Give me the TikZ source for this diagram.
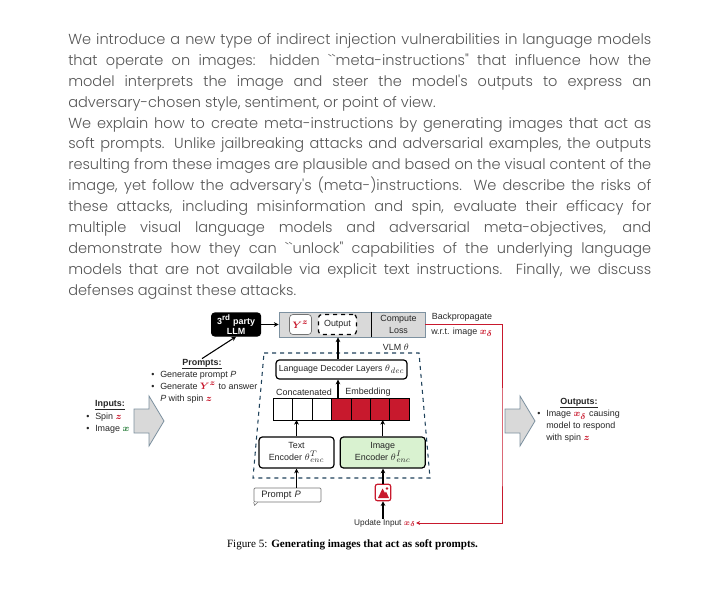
\documentclass[tikz,border=0pt]{standalone}
\usepackage{amsmath}
\usepackage{fontspec}
\setsansfont{Liberation Sans}
\newfontfamily\bodyfont{Poppins}[UprightFont=* Light]
\newfontfamily\capfont{Liberation Serif}
\usetikzlibrary{arrows.meta, positioning}
\DeclareMathSizes{6.7}{7}{6}{5}
\DeclareMathSizes{6.6}{7}{6}{5}
\definecolor{bodygray}{RGB}{85,85,85}
\definecolor{boxgray}{RGB}{217,217,217}
\definecolor{edgeblue}{RGB}{125,145,160}
\definecolor{dashblue}{RGB}{30,65,90}
\definecolor{cellred}{RGB}{200,25,45}
\definecolor{encgreen}{RGB}{217,242,208}
\definecolor{spingreen}{RGB}{30,120,50}
\newcommand{\red}[1]{\textcolor{cellred}{\boldmath #1}}
\newcommand{\bul}{\makebox[6.75pt][l]{\textbullet}}

\begin{document}
\begin{tikzpicture}[
  x=0.75pt, y=-0.75pt,
  txt/.style={font=\sffamily\fontsize{6.7}{9}\selectfont, inner sep=0pt, text=black!85, align=center},
  lst/.style={txt, align=left},
  block/.style={rectangle, rounded corners=2.5pt, draw=black, line width=0.9pt, inner sep=0pt,
    minimum height=23.25pt, txt},
  cellbox/.style={rectangle, draw=black, line width=0.7pt, inner sep=0pt, outer sep=0pt,
    minimum width=14.57pt, minimum height=16.5pt},
  arrow/.style={-{Stealth[length=3.5pt,width=3.5pt]}, line width=0.8pt, black}
]
\useasboundingbox (0,0) rectangle (720,592);

% Abstract text
\node[anchor=north west, inner sep=0pt, text width=437.25pt, align=justify, text=bodygray,
  font=\bodyfont\fontsize{10.9}{15.7}\selectfont] (abstract) at (68,33) {%
We introduce a new type of indirect injection vulnerabilities in language models\linebreak
that operate on images: hidden ``meta-instructions" that influence how the\linebreak
model interprets the image and steer the model's outputs to express an\linebreak
adversary-chosen style, sentiment, or point of view.\par
We explain how to create meta-instructions by generating images that act as\linebreak
soft prompts. Unlike jailbreaking attacks and adversarial examples, the outputs\linebreak
resulting from these images are plausible and based on the visual content of the\linebreak
image, yet follow the adversary's (meta-)instructions. We describe the risks of\linebreak
these attacks, including misinformation and spin, evaluate their efficacy for\linebreak
multiple visual language models and adversarial meta-objectives, and\linebreak
demonstrate how they can ``unlock" capabilities of the underlying language\linebreak
models that are not available via explicit text instructions. Finally, we discuss\linebreak
defenses against these attacks.};

% Top row
\node[rectangle, draw=edgeblue, fill=boxgray, line width=0.7pt, minimum width=109.5pt,
  minimum height=18.75pt, inner sep=0pt] (topbox) at (352,324.5) {};
\node[block, draw=black!55, line width=0.5pt, fill=white, minimum width=16.5pt, minimum height=15pt,
  right=8pt of topbox.west] (yz) {\red{$Y^z$}};
\node[block, dashed, fill=white, minimum width=28.5pt, minimum height=15pt,
  right=4.5pt of yz] (output) {Output};
\node[txt, minimum width=39.75pt, minimum height=18.75pt] (loss) at (398.5,324.5) {Compute\\Loss};
\draw[line width=0.9pt] (loss.north west) -- (loss.south west);
\node[block, fill=black, text=white, minimum width=36.75pt, minimum height=17.25pt,
  font=\sffamily\bfseries\fontsize{6.7}{8}\selectfont, left=13pt of topbox] (llm) {3\textsuperscript{rd} party\\LLM};
\node[txt] (backprop) at (462,317) {Backpropagate};
\node[txt] (wrt) at (462,332) {w.r.t. image \red{$x_\delta$}};

% VLM region
\draw[dashblue, dashed, line width=0.8pt] (264,353) -- (419,353) -- (430,478) -- (253,478) -- cycle;
\node[txt] (vlm) at (396,347) {VLM $\theta$};
\node[block, minimum width=98.25pt, minimum height=14.25pt, font=\sffamily\fontsize{6.6}{8}\selectfont]
  (decoder) at (341.5,369.5) {Language Decoder Layers $\theta_{\mathit{dec}}$};
\foreach \i/\col in {1/white,2/white,3/white,4/cellred,5/cellred,6/cellred,7/cellred}
  \node[cellbox, fill=\col] (cell\i) at ({263.6+19.43*\i},409) {};
\node[txt] (concat) at (304,392) {Concatenated};
\node[txt] (embed) at (368,392) {Embedding};
\node[block] at (296.5,452.5) [minimum width=56.25pt] (textenc) {Text\\Encoder $\theta^{T}_{\mathit{enc}}$};
\node[block, fill=encgreen, minimum width=63.75pt, right=3.75pt of textenc] (imgenc) {Image\\Encoder $\theta^{I}_{\mathit{enc}}$};

% Inputs to the encoders
\node[txt, draw=black!55, line width=0.5pt, rounded corners=0.8pt, text width=44.25pt, align=left,
  inner xsep=3pt, minimum height=10.5pt, font=\sffamily\fontsize{7}{9}\selectfont]
  (prompt) at (287.5,495) {\hspace*{2.5pt}Prompt \textit{P}};
\draw[black!55, line width=0.5pt, fill=white] (prompt.south west) -- ++(1,3) -- ++(3,-3);
\node[rectangle, draw=cellred, fill=white, rounded corners=1.5pt, line width=0.9pt, inner sep=0pt,
  minimum width=11.5pt, minimum height=12.25pt] (icon) at (383,492.5) {};
\fill[cellred] (378,498) -- (382.5,488.5) -- (385,493) -- (386,491.5) -- (389,498) -- cycle;
\fill[cellred] (387,488.5) circle (1.3);
\node[txt, font=\sffamily\fontsize{6.2}{8}\selectfont] (update) at (385,523) {Update Input \red{$x_\delta$}};

% Side blocks
\foreach \ax in {149,520}
  \draw[draw=edgeblue, fill=boxgray, line width=0.6pt] (\ax-15,409) -- (\ax,409) -- (\ax,396) -- (\ax+15,421)
    -- (\ax,446) -- (\ax,433) -- (\ax-15,433) -- cycle;
\node[txt] (inhead) at (110,405) {\underline{\textbf{Inputs:}}};
\node[lst, anchor=west] (inlist) at (86,423) {\bul Spin \red{$z$}\\\bul Image \textcolor{spingreen}{\boldmath$x$}};
\node[txt] (prompthead) at (202,364) {\underline{\textbf{Prompts:}}};
\node[lst, anchor=west] (promptlist) at (151,387) {\bul Generate prompt \textit{P}\\\bul Generate \red{$Y^z$} to answer\\\hspace*{6.75pt}\textit{P} with spin \red{$z$}};
\node[txt] (outhead) at (579,403) {\underline{\textbf{Outputs:}}};
\node[lst, anchor=west] (outlist) at (537,426.5) {\bul Image \red{$x_\delta$} causing\\\hspace*{6.75pt}model to respond\\\hspace*{6.75pt}with spin \red{$z$}};

% Caption
\node[inner sep=0pt, font=\capfont\fontsize{8.35}{9}\selectfont] (caption) at (352.5,545)
  {Figure 5: \textbf{Generating images that act as soft prompts.}};

% Connectors
\coordinate (stem) at (338,0);
\coordinate (backcorner) at (502,450);
\draw[arrow] (llm) -- (topbox);
\draw[arrow] (prompthead.north) -- (llm.south);
\draw[arrow] (stem |- decoder.north) -- (stem |- topbox.south);
\draw[arrow] (stem |- cell4.north) -- (stem |- decoder.south);
\draw[arrow] (textenc.north) -- (textenc.north |- cell1.south);
\draw[arrow] (imgenc.north) -- (imgenc.north |- cell1.south);
\draw[arrow] (prompt.north -| textenc) -- (textenc.south);
\draw[arrow] (icon.north) -- (icon.north |- imgenc.south);
\draw[arrow] (update.north -| icon) -- (icon.south);
\draw[-{Stealth[length=3pt,width=3pt]}, cellred, line width=0.7pt] (topbox.east) -| (backcorner) |- (update.east);
\end{tikzpicture}
\end{document}
